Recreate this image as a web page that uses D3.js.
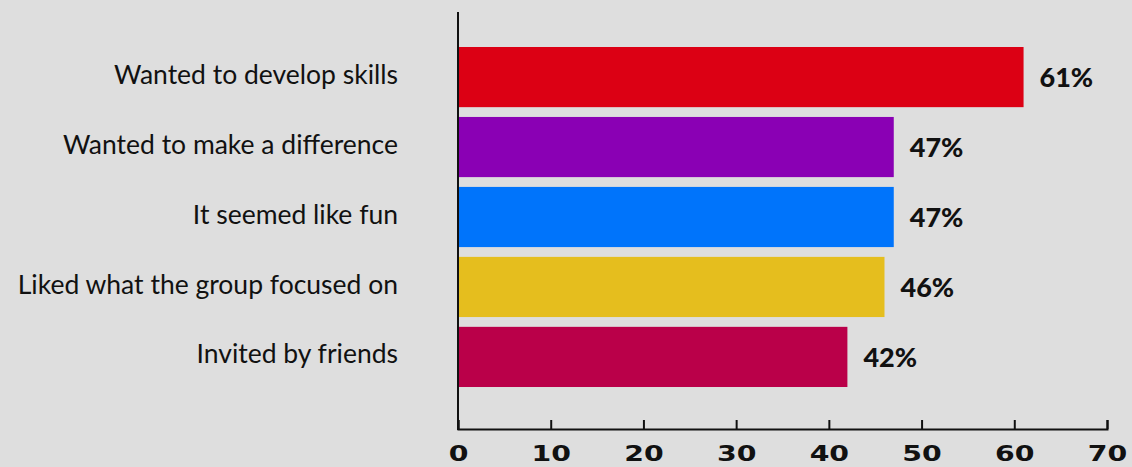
<!DOCTYPE html>
<html>
<head>
<meta charset="utf-8">
<script src="https://cdn.jsdelivr.net/npm/d3@7"></script>
<style>
  html, body { margin: 0; padding: 0; background: #dedede; }
  svg { display: block; }
</style>
</head>
<body>
<div id="chart"></div>
<script>
const categories = [
  "Wanted to develop skills",
  "Wanted to make a difference",
  "It seemed like fun",
  "Liked what the group focused on",
  "Invited by friends"
];
const values = [61, 47, 47, 46, 42];
const colors = ["#dc0014", "#8a00b4", "#0074fb", "#e5be1e", "#ba0049"];
const tickValues = [0, 10, 20, 30, 40, 50, 60, 70];

const W = 1132, H = 467;
const svg = d3.select("#chart").append("svg")
  .attr("width", W).attr("height", H)
  .style("background", "#dedede");

const x = d3.scaleLinear().domain([0, 70]).range([458, 1107]);
const y = d3.scaleBand().domain(categories)
  .range([40, 394]).paddingInner(0.14).paddingOuter(0.1);

const axisY = 429;

// bars
svg.append("g").selectAll("rect")
  .data(values)
  .join("rect")
  .attr("x", x(0))
  .attr("y", (d, i) => y(categories[i]))
  .attr("width", d => x(d) - x(0))
  .attr("height", y.bandwidth())
  .attr("fill", (d, i) => colors[i]);

// value labels
svg.append("g").selectAll("text")
  .data(values)
  .join("text")
  .attr("x", d => x(d) + 16)
  .attr("y", (d, i) => y(categories[i]) + y.bandwidth() / 2)
  .attr("dy", "0.36em")
  .attr("font-family", "Lato, 'Open Sans', sans-serif")
  .attr("font-weight", 900)
  .attr("font-size", 27)
  .attr("fill", "#111")
  .text(d => d + "%");

// category labels
svg.append("g").selectAll("text")
  .data(categories)
  .join("text")
  .attr("x", x(0) - 60)
  .attr("y", d => y(d) + y.bandwidth() / 2 - 3)
  .attr("dy", "0.36em")
  .attr("text-anchor", "end")
  .attr("font-family", "Lato, 'Open Sans', sans-serif")
  .attr("font-weight", 400)
  .attr("font-size", 26.5)
  .attr("fill", "#111")
  .text(d => d);

// x axis
const xAxis = d3.axisBottom(x).tickValues(tickValues).tickSize(-9).tickPadding(17);
const gx = svg.append("g").attr("transform", `translate(0,${axisY})`).call(xAxis);
gx.select(".domain").attr("stroke", "#111").attr("stroke-width", 2);
gx.selectAll(".tick line").attr("stroke", "#111").attr("stroke-width", 2);
gx.selectAll(".tick text")
  .attr("font-family", "'DejaVu Sans', sans-serif")
  .attr("font-weight", "bold")
  .attr("font-size", 21)
  .attr("transform", "scale(1.35,1)")
  .attr("fill", "#111");

// y axis line
svg.append("line")
  .attr("x1", x(0)).attr("x2", x(0))
  .attr("y1", 12).attr("y2", axisY + 1)
  .attr("stroke", "#111").attr("stroke-width", 2);
</script>
</body>
</html>
